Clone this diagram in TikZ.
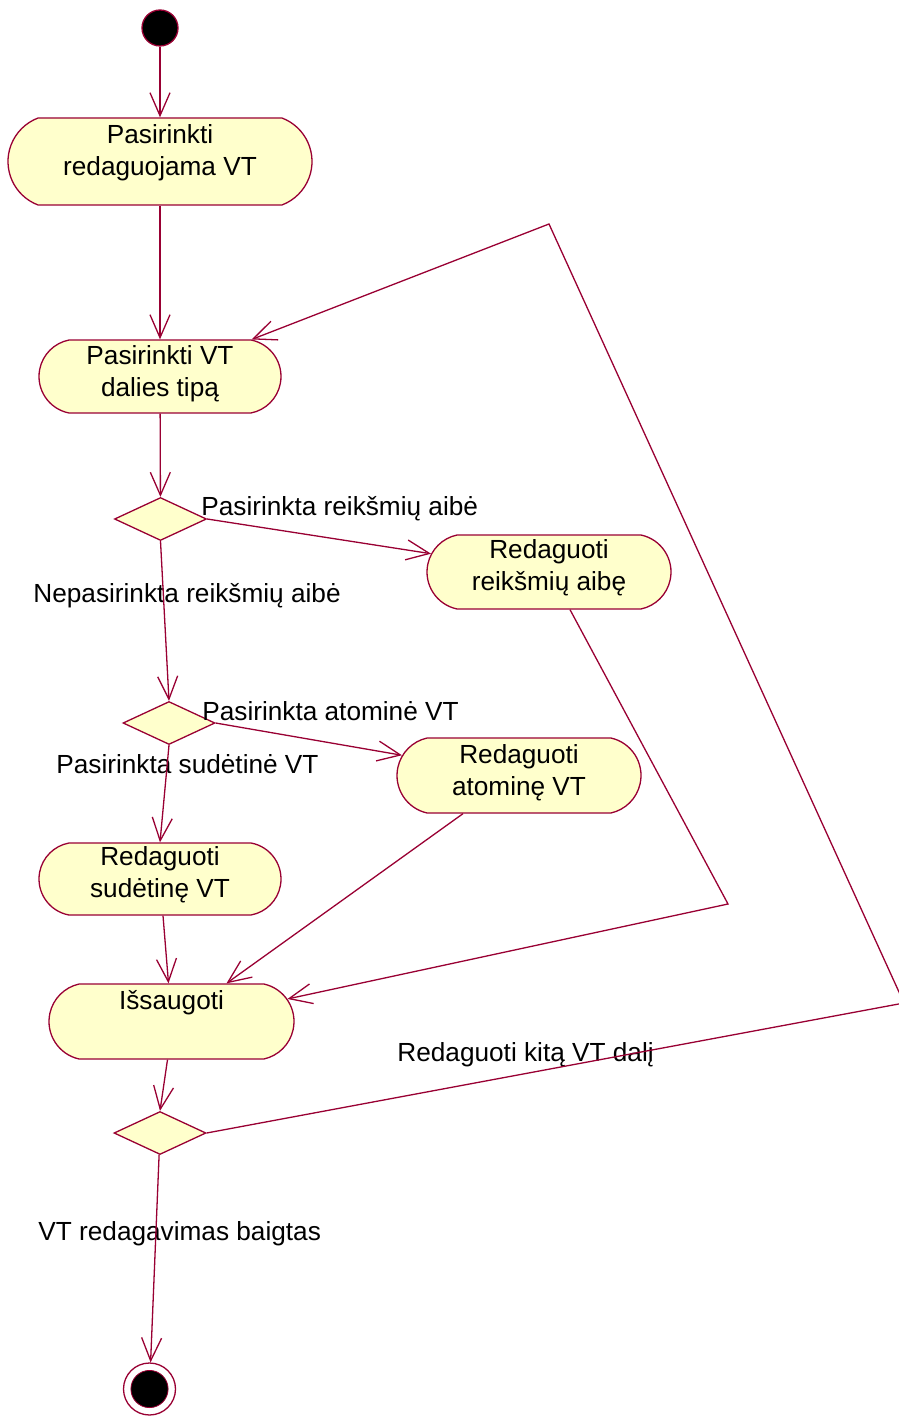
\documentclass[tikz,border=0pt]{standalone}
\usepackage{fontspec}
\setmainfont{Liberation Sans}
\usetikzlibrary{arrows.meta,shapes.geometric,shapes.misc}
\definecolor{flow}{RGB}{153,0,51}
\definecolor{actfill}{RGB}{255,255,204}
\begin{document}
\begin{tikzpicture}[x=0.5pt,y=0.5pt,
  flowline/.style={draw=flow, line width=0.65pt, -{Straight Barb[length=11.5pt,width=10pt]}},
  activity/.style={rounded rectangle, rounded rectangle arc length=#1, draw=flow,
    fill=actfill, inner sep=0pt, line width=0.65pt},
  acttext/.style={font=\fontsize{13.1}{16}\selectfont, align=center, anchor=base, inner sep=0pt},
  guard/.style={font=\fontsize{13.1}{16}\selectfont, anchor=base west, inner sep=0pt},
  decision/.style={diamond, draw=flow, fill=actfill, inner sep=0pt, line width=0.65pt,
    minimum width=46pt, minimum height=21.5pt},
  initial/.style={circle, fill=black, draw=flow, line width=0.65pt, minimum size=18pt, inner sep=0pt},
  final/.style={circle, fill=white, draw=flow, line width=0.65pt, minimum size=26pt, inner sep=0pt},
]
\useasboundingbox (0,0) rectangle (898,-1416);

% states
\node[initial] (start) at (160,-28) {};
\node[activity=138.6, minimum width=152pt, minimum height=43.5pt] (a1) at (160,-161.5) {};
\node[activity=157.8, minimum width=121pt, minimum height=36.5pt] (a2) at (160,-376.5) {};
\node[decision] (d1) at (160.5,-519) {};
\node[activity=156.4, minimum width=122pt, minimum height=37pt] (a3) at (549,-572) {};
\node[decision] (d2) at (169,-723) {};
\node[activity=155, minimum width=122pt, minimum height=37.5pt] (a4) at (519,-775.5) {};
\node[activity=159, minimum width=121pt, minimum height=36pt] (a5) at (160,-879) {};
\node[activity=155, minimum width=122.5pt, minimum height=37.5pt] (a6) at (171.5,-1021.5) {};
\node[decision] (d3) at (160,-1133) {};
\node[final] (end) at (149.5,-1389) {};
\filldraw[draw=flow, fill=black, line width=0.4pt] (end.center) circle[radius=9.3pt];

% activity captions (base anchor sits on the last line)
\node[acttext] (a1t) at ([yshift=-29pt]a1.north) {Pasirinkti\\redaguojama VT};
\node[acttext] (a2t) at ([yshift=-28.5pt]a2.north) {Pasirinkti VT\\dalies tipą};
\node[acttext] (a3t) at ([yshift=-28pt]a3.north) {Redaguoti\\reikšmių aibę};
\node[acttext] (a4t) at ([yshift=-29pt]a4.north) {Redaguoti\\atominę VT};
\node[acttext] (a5t) at ([yshift=-27.5pt]a5.north) {Redaguoti\\sudėtinę VT};
\node[acttext] (a6t) at ([yshift=-13pt]a6.north) {Išsaugoti};

% guard labels
\node[guard] (g1) at (201,-516) {Pasirinkta reikšmių aibė};
\node[guard] (g2) at (33,-602) {Nepasirinkta reikšmių aibė};
\node[guard] (g3) at (202,-720) {Pasirinkta atominė VT};
\node[guard] (g4) at (56,-773) {Pasirinkta sudėtinė VT};
\node[guard] (g5) at (397,-1061) {Redaguoti kitą VT dalį};
\node[guard] (g6) at (38,-1240) {VT redagavimas baigtas};

% bends of the return paths
\coordinate (k1) at (728,-904);
\coordinate (k2) at (904,-1003);
\coordinate (k3) at (549,-224);

% transitions
\draw[flowline] (start) -- (a1);
\draw[flowline] (a1) -- (a2);
\draw[flowline] (a2) -- (d1);
\draw[flowline] (d1.east) -- (a3);
\draw[flowline] (d1.south) -- (d2.north);
\draw[flowline] (d2.east) -- (a4);
\draw[flowline] (d2.south) -- (a5.north);
\draw[flowline] ([xshift=1.5pt]a5.south) -- ([xshift=-1.5pt]a6.north);
\draw[flowline] ([xshift=-28pt]a4.south) -- ([xshift=27.5pt]a6.north);
\draw[flowline] ([xshift=10.5pt]a3.south) -- (k1) -- (a6.11);
\draw[flowline] ([xshift=-2pt]a6.south) -- (d3.north);
\draw[flowline] (d3.east) -- (k2) -- (k3) -- (a2.22);
\draw[flowline] (d3) -- (end);
\end{tikzpicture}
\end{document}
